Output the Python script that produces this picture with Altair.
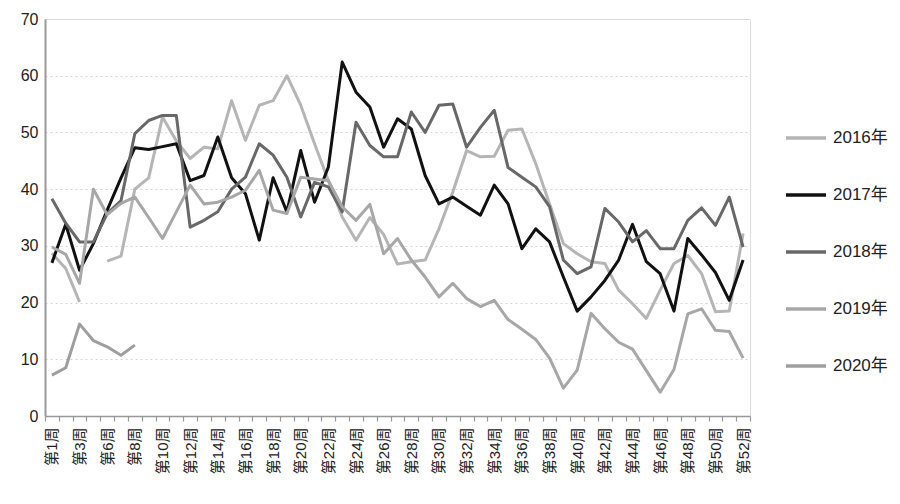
import json
import altair as alt
import pandas as pd

weeks = ["第1周", "第2周", "第3周", "第4周", "第6周", "第7周", "第8周", "第9周", "第10周",
         "第11周", "第12周", "第13周", "第14周", "第15周", "第16周", "第17周", "第18周",
         "第19周", "第20周", "第21周", "第22周", "第23周", "第24周", "第25周", "第26周",
         "第27周", "第28周", "第29周", "第30周", "第31周", "第32周", "第33周", "第34周",
         "第35周", "第36周", "第37周", "第38周", "第39周", "第40周", "第41周", "第42周",
         "第43周", "第44周", "第45周", "第46周", "第47周", "第48周", "第49周", "第50周",
         "第51周", "第52周"]
shown_labels = weeks[::2]

years = ["2016年", "2017年", "2018年", "2019年", "2020年"]
colors = ["#b5b5b5", "#111111", "#686868", "#a7a7a7", "#9e9e9e"]

v2016 = [28.7, 26.0, 20.1, None, 27.3, 28.2, 40.0, 42.0, 52.7, 48.5,
         45.4, 47.4, 47.1, 55.6, 48.6, 54.8, 55.6, 60.0, 54.8, 48.0,
         41.5, 35.1, 31.0, 35.0, 32.0, 26.8, 27.2, 27.5, 33.0, 39.5,
         46.8, 45.7, 45.8, 50.4, 50.6, 44.5, 37.4, 30.4, 28.6, 27.2,
         26.9, 22.2, 19.8, 17.2, 22.2, 26.9, 28.3, 25.1, 18.4, 18.5,
         32.2]
v2017 = [27.0, 33.8, 25.7, 30.4, 36.3, 42.0, 47.3, 47.0, 47.5, 48.0,
         41.5, 42.4, 49.2, 42.0, 39.2, 31.0, 42.0, 36.0, 46.8, 37.7,
         43.9, 62.4, 57.1, 54.5, 47.4, 52.4, 50.6, 42.4, 37.4, 38.6,
         37.0, 35.4, 40.7, 37.4, 29.5, 33.0, 30.7, 24.5, 18.5, 21.0,
         23.9, 27.5, 33.8, 27.2, 25.1, 18.5, 31.3, 28.4, 25.3, 20.4,
         27.5]
v2018 = [38.3, 34.0, 30.7, 30.7, 35.7, 38.0, 49.8, 52.1, 53.0, 53.0,
         33.3, 34.5, 36.0, 40.0, 42.1, 48.0, 46.0, 42.1, 35.1, 41.2,
         40.4, 36.0, 51.8, 47.7, 45.7, 45.7, 53.6, 50.0, 54.8, 55.0,
         47.4, 50.9, 53.9, 43.8, 42.1, 40.4, 36.9, 27.5, 25.1, 26.3,
         36.6, 34.2, 30.7, 32.7, 29.5, 29.5, 34.5, 36.7, 33.6, 38.6,
         29.8]
v2019 = [29.8, 28.5, 23.4, 40.0, 35.5, 37.5, 38.6, 35.0, 31.3, 36.0,
         40.7, 37.4, 37.7, 38.6, 39.8, 43.3, 36.3, 35.7, 42.1, 41.8,
         41.5, 36.9, 34.5, 37.3, 28.6, 31.3, 27.5, 24.5, 21.0, 23.4,
         20.7, 19.3, 20.4, 17.0, 15.3, 13.5, 10.2, 4.9, 8.1, 18.1,
         15.4, 13.0, 11.8, 8.0, 4.2, 8.2, 18.0, 18.9, 15.1, 14.9,
         10.2]
v2020 = [7.2, 8.5, 16.2, 13.3, 12.2, 10.7, 12.5]

series = {"2016年": v2016, "2017年": v2017, "2018年": v2018,
          "2019年": v2019, "2020年": v2020}

rows = []
for year, vals in series.items():
    for wk, v in zip(weeks, vals):
        rows.append({"year": year, "week": wk, "value": v})
df = pd.DataFrame(rows)

FONT = "Liberation Sans, Arial, Noto Sans CJK SC"
label_expr = "indexof(" + json.dumps(shown_labels, ensure_ascii=False) + ", datum.value) >= 0 ? datum.label : ''"

chart = alt.Chart(df).mark_line(
    strokeWidth=3, invalid="break-paths-filter-domains", strokeJoin="round"
).encode(
    x=alt.X("week:N", sort=weeks, bandPosition=0.5,
            scale=alt.Scale(type="band", paddingInner=0, paddingOuter=0),
            axis=alt.Axis(title=None, labelAngle=-90, labelFontSize=15, labelFont=FONT,
                          labelColor="#222222", labelOverlap=False, labelPadding=6,
                          labelExpr=label_expr, tickBand="extent", ticks=True,
                          tickSize=5, tickColor="#999999", tickWidth=1.2,
                          domainColor="#999999", domainWidth=1.5, grid=False)),
    y=alt.Y("value:Q", scale=alt.Scale(domain=[0, 70], nice=False, zero=True),
            axis=alt.Axis(title=None, values=[0, 10, 20, 30, 40, 50, 60, 70],
                          labelFontSize=16, labelFont=FONT, labelColor="#222222",
                          labelPadding=7, ticks=False, domainColor="#999999",
                          domainWidth=2, grid=True, gridColor="#d5d5d5",
                          gridDash=[2, 3], gridWidth=1)),
    color=alt.Color("year:N", scale=alt.Scale(domain=years, range=colors),
                    legend=alt.Legend(title=None, orient="none", legendX=739, legendY=97,
                                      direction="vertical", symbolType="stroke",
                                      symbolSize=1600, symbolStrokeWidth=3.5,
                                      labelFontSize=17, labelFont=FONT,
                                      labelColor="#222222", labelOffset=5,
                                      rowPadding=27, padding=0)),
).properties(
    width=705, height=397,
    autosize=alt.AutoSizeParams(type="none"),
    padding={"left": 37, "top": 11, "right": 140, "bottom": 80},
).configure_view(stroke=None).configure(background="white")

chart.save("out.html", embed_options={"renderer": "svg", "actions": False})
